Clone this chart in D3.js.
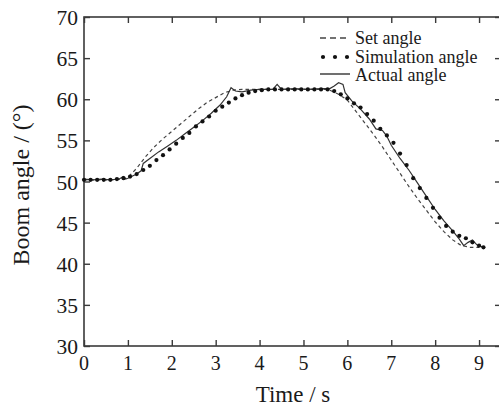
<!DOCTYPE html>
<html>
<head>
<meta charset="utf-8">
<script src="https://cdn.jsdelivr.net/npm/d3@7"></script>
<style>
body{margin:0;background:#fff;}
text{font-family:"Liberation Serif","Times New Roman",serif;fill:#1a1a1a;}
</style>
</head>
<body>
<div id="chart"></div>
<script>
// tick labels
var xTicks=[0,1,2,3,4,5,6,7,8,9];
var yTicks=[30,35,40,45,50,55,60,65,70];

// set angle (dashed)
var setTime=[0,0.3,0.6,0.9,1.0,1.2,1.4,1.6,1.8,2.0,2.2,2.4,2.6,2.8,3.0,3.2,3.4,3.6,3.8,4.0,4.5,5.0,5.5,5.6,5.8,6.0,6.2,6.4,6.6,6.8,7.0,7.2,7.4,7.6,7.8,8.0,8.2,8.4,8.6,8.8,9.0];
var setAngle=[50.2,50.2,50.2,50.3,50.5,51.6,53.0,54.2,55.2,56.1,57.0,57.9,58.8,59.6,60.2,60.8,61.1,61.2,61.2,61.2,61.2,61.2,61.2,61.1,60.6,59.9,58.5,57.1,55.7,54.2,52.6,51.0,49.4,47.9,46.5,45.1,43.9,42.9,42.2,42.0,42.0];

// simulation angle (dots)
var simTime=[0,0.15,0.3,0.45,0.6,0.75,0.9,1.05,1.2,1.35,1.5,1.65,1.8,1.95,2.1,2.25,2.4,2.55,2.7,2.85,3.0,3.15,3.3,3.45,3.6,3.75,3.9,4.05,4.2,4.35,4.5,4.65,4.8,4.95,5.1,5.25,5.4,5.55,5.7,5.85,6.0,6.15,6.3,6.45,6.6,6.75,6.9,7.05,7.2,7.35,7.5,7.65,7.8,7.95,8.1,8.25,8.4,8.55,8.7,8.85,9.0,9.1];
var simAngle=[50.2,50.2,50.2,50.2,50.2,50.3,50.4,50.6,50.9,51.4,51.9,52.6,53.2,53.9,54.6,55.3,55.9,56.7,57.3,57.9,58.6,59.1,59.6,60.1,60.5,60.8,61.0,61.1,61.2,61.2,61.2,61.2,61.2,61.2,61.2,61.2,61.2,61.2,61.0,60.6,60.1,59.5,59.0,58.2,57.4,56.4,55.6,54.7,53.4,52.0,50.4,49.2,48.0,46.8,45.6,44.6,43.9,43.4,43.1,42.6,42.2,42.0];

// actual angle (solid)
var actTime=[0,0.2,0.4,0.6,0.8,0.9,0.95,1.0,1.2,1.3,1.35,1.5,1.7,1.9,2.1,2.3,2.5,2.7,2.9,3.1,3.25,3.35,3.45,3.6,3.8,4.0,4.3,4.4,4.5,4.8,5.1,5.4,5.6,5.7,5.8,5.9,5.95,6.1,6.3,6.5,6.65,6.8,6.9,7.0,7.2,7.4,7.6,7.8,8.0,8.2,8.4,8.55,8.65,8.75,8.85,8.95,9.05,9.1];
var actAngle=[50.3,50.2,50.3,50.2,50.3,50.6,50.3,50.4,50.9,51.3,52.2,52.8,53.6,54.3,55.0,55.8,56.6,57.4,58.3,59.3,60.3,61.4,61.0,60.9,61.1,61.2,61.2,61.8,61.2,61.3,61.2,61.3,61.3,61.6,62.0,61.8,60.8,59.8,58.8,57.6,56.4,56.2,55.5,54.4,52.8,51.4,49.8,48.2,46.6,45.2,44.0,43.0,42.2,42.6,42.9,42.3,42.1,42.1];

var W=499,H=408;
var margin={left:84,top:17};
var plotW=417,plotH=329;

var svg=d3.select("#chart").append("svg").attr("width",W).attr("height",H);
var g=svg.append("g").attr("transform","translate("+margin.left+","+margin.top+")");

var x=d3.scaleLinear().domain([0,9.5]).range([0,plotW]);
var y=d3.scaleLinear().domain([30,70]).range([plotH,0]);

var axisColor="#3a3a3a";

function styleTicks(a){
    a.select(".domain").remove();
    a.selectAll("line").attr("stroke",axisColor).attr("stroke-width",1.4);
}

// frame + inward ticks on all four sides
g.append("rect").attr("width",plotW).attr("height",plotH)
    .attr("fill","none").attr("stroke",axisColor).attr("stroke-width",1.6);

g.append("g").attr("transform","translate(0,"+plotH+")")
    .call(d3.axisTop(x).tickValues(xTicks).tickSize(6).tickFormat("")).call(styleTicks);
g.append("g")
    .call(d3.axisBottom(x).tickValues(xTicks).tickSize(6).tickFormat("")).call(styleTicks);
g.append("g")
    .call(d3.axisRight(y).tickValues(yTicks).tickSize(6).tickFormat("")).call(styleTicks);
g.append("g").attr("transform","translate("+plotW+",0)")
    .call(d3.axisLeft(y).tickValues(yTicks).tickSize(6).tickFormat("")).call(styleTicks);

// tick labels
g.selectAll(".xlab").data(xTicks).enter().append("text")
    .attr("x",function(d){return x(d);})
    .attr("y",plotH+24)
    .attr("text-anchor","middle")
    .style("font-size","20px")
    .text(function(d){return d;});
g.selectAll(".ylab").data(yTicks).enter().append("text")
    .attr("x",-6)
    .attr("y",function(d){return y(d)+8;})
    .attr("text-anchor","end")
    .style("font-size","21.5px")
    .text(function(d){return d;});

// axis titles
svg.append("text").attr("x",293).attr("y",402)
    .attr("text-anchor","middle").style("font-size","23px").text("Time / s");
svg.append("text").attr("transform","translate(29,185) rotate(-90)")
    .attr("text-anchor","middle").style("font-size","24px").text("Boom angle / (°)");

var line=d3.line().x(function(d){return x(d[0]);}).y(function(d){return y(d[1]);});

// set angle
g.append("path").datum(d3.zip(setTime,setAngle))
    .attr("d",line).attr("fill","none")
    .attr("stroke","#444").attr("stroke-width",1.2).attr("stroke-dasharray","3.5,3");

// actual angle
g.append("path").datum(d3.zip(actTime,actAngle))
    .attr("d",line).attr("fill","none")
    .attr("stroke","#333").attr("stroke-width",1.2);

// simulation angle
g.selectAll(".sim").data(d3.zip(simTime,simAngle)).enter().append("circle")
    .attr("cx",function(d){return x(d[0]);})
    .attr("cy",function(d){return y(d[1]);})
    .attr("r",2.1).attr("fill","#111");

// legend
var leg=svg.append("g").attr("transform","translate(320,0)");
leg.append("line").attr("x1",0).attr("x2",30).attr("y1",38).attr("y2",38)
    .attr("stroke","#444").attr("stroke-width",1.4).attr("stroke-dasharray","6,4");
leg.selectAll(".ld").data([3,15,27]).enter().append("circle")
    .attr("cx",function(d){return d;}).attr("cy",57).attr("r",2.1).attr("fill","#111");
leg.append("line").attr("x1",0).attr("x2",30).attr("y1",74).attr("y2",74)
    .attr("stroke","#333").attr("stroke-width",1.4);
var labels=["Set angle","Simulation angle","Actual angle"];
leg.selectAll(".lt").data(labels).enter().append("text")
    .attr("x",35)
    .attr("y",function(d,i){return 44+i*18.5;})
    .style("font-size","18px")
    .text(function(d){return d;});
</script>
</body>
</html>
